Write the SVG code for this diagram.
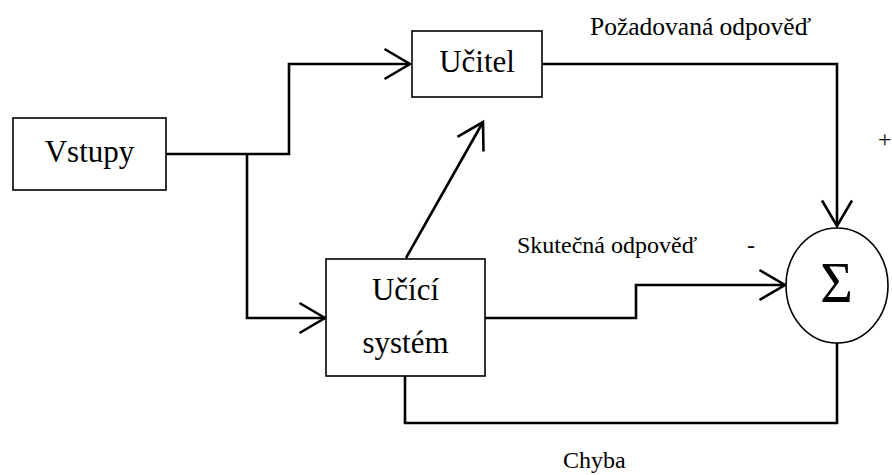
<svg xmlns="http://www.w3.org/2000/svg" width="892" height="475" viewBox="0 0 892 475">
  <defs>
    <marker id="open-arrow" markerUnits="userSpaceOnUse" markerWidth="40" markerHeight="40" refX="30" refY="20" orient="auto" overflow="visible">
      <polyline points="4.5,5 30,20 4.5,35" fill="none" stroke="#000000" stroke-width="2.6"/>
    </marker>
  </defs>

  <rect width="892" height="475" fill="#ffffff"/>

  <!-- connectors: shared wire look set on the group -->
  <g id="connectors" fill="none" stroke="#000000" stroke-width="2.6" stroke-linejoin="miter">
    <!-- inputs to teacher -->
    <polyline points="166,154 289,154 289,64 410,64" marker-end="url(#open-arrow)"/>
    <!-- inputs to learning system -->
    <polyline points="247,154 247,318 325,318" marker-end="url(#open-arrow)"/>
    <!-- learning system to teacher -->
    <polyline points="406,258 483,122" marker-end="url(#open-arrow)"/>
    <!-- desired response -->
    <polyline points="542,64 837,64 837,226" marker-end="url(#open-arrow)"/>
    <!-- actual response -->
    <polyline points="485,318 636,318 636,285 785,285" marker-end="url(#open-arrow)"/>
    <!-- error feedback -->
    <polyline points="405,376 405,423 837,423 837,343"/>
  </g>

  <!-- blocks: shared outline and lettering set on the group -->
  <g font-family="'Liberation Serif', serif" stroke-width="1.6">
    <g id="vstupy">
      <rect x="13" y="118" width="153" height="72" fill="#ffffff" stroke="#000000"/>
      <text x="89.5" y="162" font-size="31" text-anchor="middle" fill="#000000">Vstupy</text>
    </g>

    <g id="ucitel">
      <rect x="412" y="31" width="130" height="66" fill="#ffffff" stroke="#000000"/>
      <text x="477" y="72" font-size="31" text-anchor="middle" fill="#000000">Učitel</text>
    </g>

    <g id="ucici-system">
      <rect x="326" y="259" width="159" height="117" fill="#ffffff" stroke="#000000"/>
      <text x="405.5" y="300" font-size="31" text-anchor="middle" fill="#000000">Učící</text>
      <text x="405.5" y="353" font-size="31" text-anchor="middle" fill="#000000">systém</text>
    </g>

    <g id="soucet">
      <ellipse cx="837" cy="285.5" rx="51" ry="57.5" fill="#ffffff" stroke="#000000"/>
      <text x="836.5" y="302" font-size="56" text-anchor="middle" fill="#000000">Σ</text>
    </g>

    <g id="labels" fill="#000000">
      <text x="590" y="35" font-size="25.5">Požadovaná odpověď</text>
      <text x="517" y="253" font-size="24">Skutečná odpověď</text>
      <text x="751" y="253" font-size="24" text-anchor="middle">-</text>
      <text x="878" y="147" font-size="24">+</text>
      <text x="563" y="468" font-size="24">Chyba</text>
    </g>
  </g>
</svg>
